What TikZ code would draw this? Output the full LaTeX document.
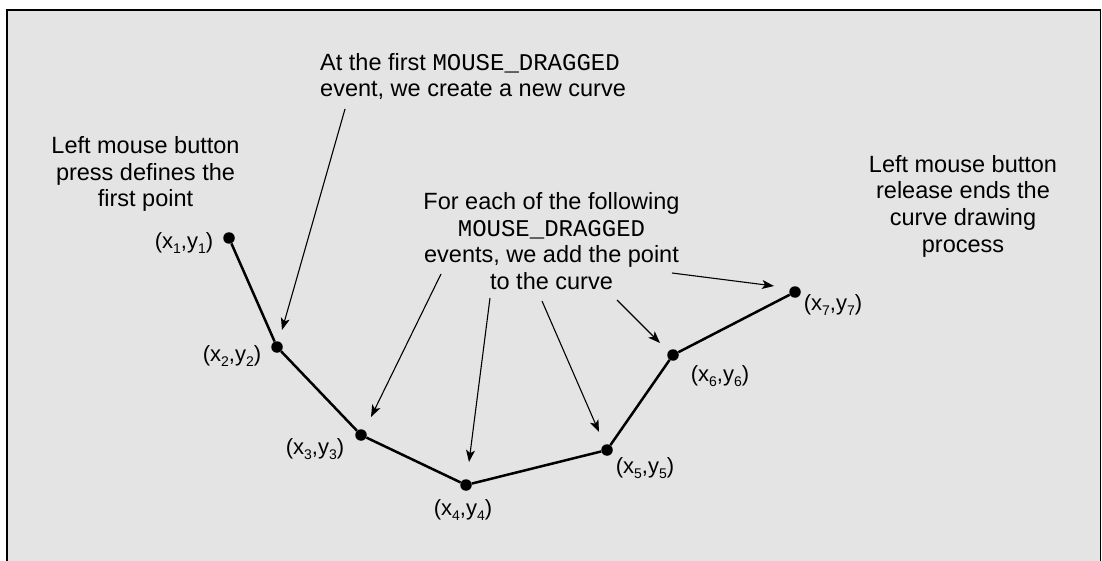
\documentclass[tikz,border=0pt]{standalone}
\usepackage{fontspec}
\setmainfont{Liberation Sans}
\newfontfamily\monofont{Liberation Mono}
\usetikzlibrary{arrows.meta}
\newcommand\subs[1]{\raisebox{-4.5pt}{\fontsize{14pt}{14pt}\selectfont #1}}
\newcommand\md{{\fontsize{24pt}{26.5pt}\selectfont\monofont MOUSE\_DRAGGED}}
\begin{document}
\begin{tikzpicture}[x=1pt,y=-1pt,
  txt/.style={font=\fontsize{23.5pt}{26.5pt}\selectfont, inner sep=0pt, align=center},
  lbl/.style={font=\fontsize{22pt}{24pt}\selectfont, inner sep=0pt},
  dot/.style={circle, fill=black, inner sep=0pt, minimum size=11.5pt},
  curve/.style={line width=2.5pt, line join=round},
  ptr/.style={line width=1.1pt, -{Stealth[length=12pt,width=9pt,inset=3pt]}},
]
\useasboundingbox (0,0) rectangle (1102,561);
\fill[white] (0,0) rectangle (1102,561);
\fill[fill={rgb,255:red,228;green,228;blue,228}] (7,10) rectangle (1100.5,561);
\draw[line width=1.4pt] (7,562) -- (7,10) -- (1100.5,10) -- (1100.5,562);

% points
\node[dot] (p1) at (229,238) {};
\node[dot] (p2) at (277,347) {};
\node[dot] (p3) at (361,435) {};
\node[dot] (p4) at (466,485) {};
\node[dot] (p5) at (607,450) {};
\node[dot] (p6) at (673,355) {};
\node[dot] (p7) at (795,292) {};
\draw[curve] (p1) -- (p2) -- (p3) -- (p4) -- (p5) -- (p6) -- (p7);

% point labels
\node[lbl] (l1) at (184,243) {(x\subs{1},y\subs{1})};
\node[lbl] (l2) at (232,356) {(x\subs{2},y\subs{2})};
\node[lbl] (l3) at (315,449) {(x\subs{3},y\subs{3})};
\node[lbl] (l4) at (463,510) {(x\subs{4},y\subs{4})};
\node[lbl] (l5) at (645,468) {(x\subs{5},y\subs{5})};
\node[lbl] (l6) at (720,376) {(x\subs{6},y\subs{6})};
\node[lbl] (l7) at (833,305) {(x\subs{7},y\subs{7})};

% texts (base anchor = last line's baseline)
\node[txt, anchor=base] (tleft) at (145.5,207) {Left mouse button\\press defines the\\first point};
\node[txt, anchor=base west, align=left] (ttop) at (320,97) {At the first \md\\event, we create a new curve};
\node[txt, anchor=base] (tmid) at (551.5,289) {For each of the following\\\md\\events, we add the point\\to the curve};
\node[txt, anchor=base] (tright) at (963,252) {Left mouse button\\release ends the\\curve drawing\\process};

% arrows
\coordinate (a1s) at (345,109); \coordinate (a1e) at (282,330);
\coordinate (a3s) at (441,274); \coordinate (a3e) at (371,417);
\coordinate (a4s) at (490,298); \coordinate (a4e) at (469,462);
\coordinate (a5s) at (542,301); \coordinate (a5e) at (599,432);
\coordinate (a6s) at (617,300); \coordinate (a6e) at (660,343);
\coordinate (a7s) at (672,273); \coordinate (a7e) at (774,286);
\draw[ptr] (a1s) -- (a1e);
\draw[ptr] (a3s) -- (a3e);
\draw[ptr] (a4s) -- (a4e);
\draw[ptr] (a5s) -- (a5e);
\draw[ptr] (a6s) -- (a6e);
\draw[ptr] (a7s) -- (a7e);
\end{tikzpicture}
\end{document}
